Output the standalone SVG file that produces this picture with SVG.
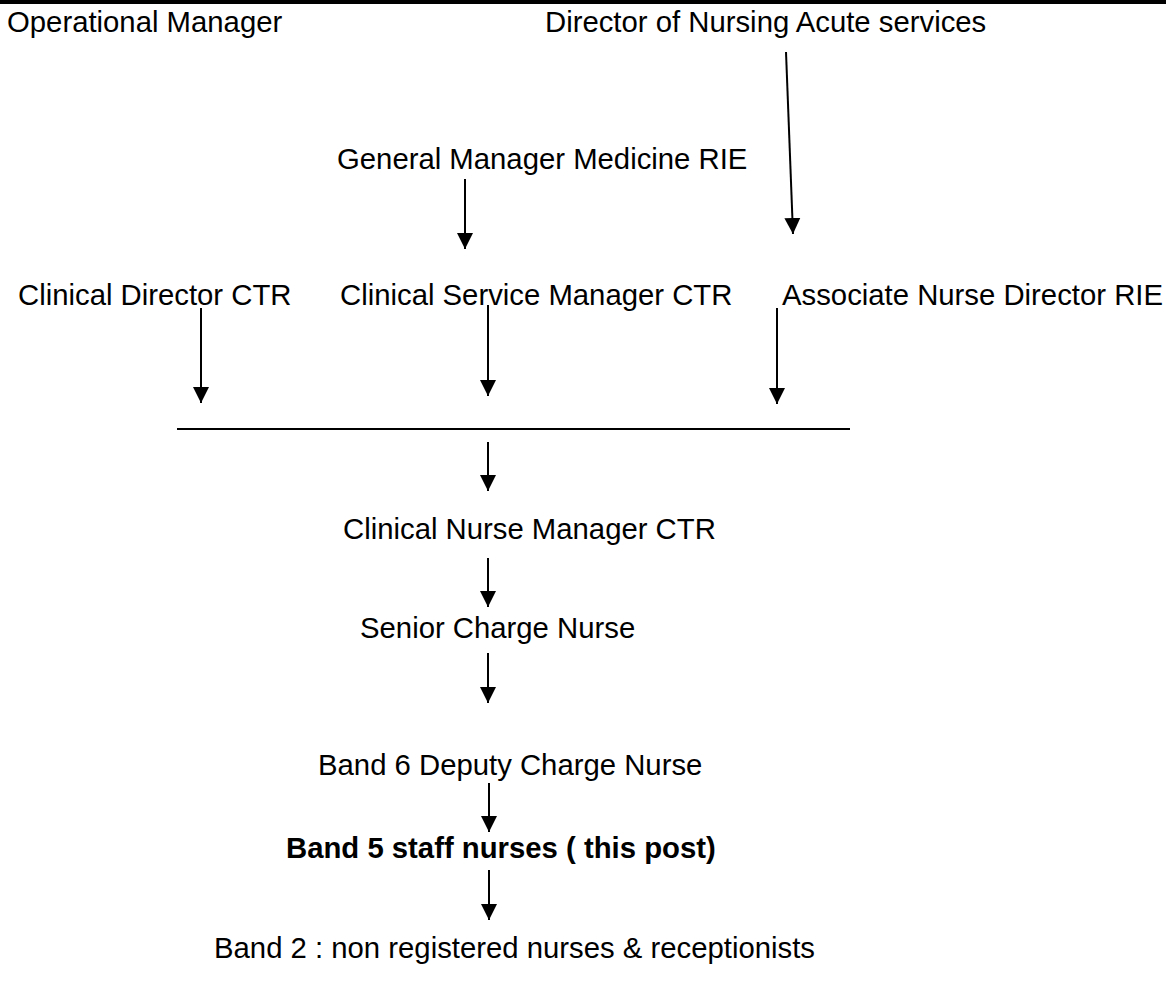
<svg xmlns="http://www.w3.org/2000/svg" width="1166" height="983" viewBox="0 0 1166 983">
<style>
text{font-family:"Liberation Sans",Arial,sans-serif;font-size:29.3px;fill:#000}
.b{font-weight:bold}
.c line{stroke:#000;stroke-width:2}
</style>
<defs>
<marker id="ah" markerUnits="userSpaceOnUse" markerWidth="18" markerHeight="18" viewBox="0 0 18 18" refX="16" refY="9" orient="auto">
<path d="M0,1 L16,9 L0,17 Z" fill="#000"/>
</marker>
</defs>
<rect x="0" y="0" width="1166" height="4" fill="#000"/>
<g id="n-opman"><text x="7" y="32">Operational Manager</text></g>
<g id="n-director"><text x="545" y="32">Director of Nursing Acute services</text></g>
<g id="n-genman"><text x="337" y="169">General Manager Medicine RIE</text></g>
<g id="n-clindir"><text x="18" y="305">Clinical Director CTR</text></g>
<g id="n-csm"><text x="340" y="305">Clinical Service Manager CTR</text></g>
<g id="n-and"><text x="782" y="305">Associate Nurse Director RIE</text></g>
<g id="n-cnm"><text x="343" y="539">Clinical Nurse Manager CTR</text></g>
<g id="n-scn"><text x="360" y="638">Senior Charge Nurse</text></g>
<g id="n-band6"><text x="318" y="775">Band 6 Deputy Charge Nurse</text></g>
<g id="n-band5"><text class="b" x="286" y="858">Band 5 staff nurses ( this post)</text></g>
<g id="n-band2"><text x="214" y="958">Band 2 : non registered nurses &amp; receptionists</text></g>
<g id="connectors" class="c">
<line x1="786" y1="52" x2="793" y2="234" marker-end="url(#ah)"/>
<line x1="465" y1="179" x2="465" y2="249" marker-end="url(#ah)"/>
<line x1="201" y1="308" x2="201" y2="403" marker-end="url(#ah)"/>
<line x1="488" y1="305" x2="488" y2="396" marker-end="url(#ah)"/>
<line x1="777" y1="308" x2="777" y2="404" marker-end="url(#ah)"/>
<line x1="177" y1="429" x2="850" y2="429"/>
<line x1="488" y1="442" x2="488" y2="491" marker-end="url(#ah)"/>
<line x1="488" y1="558" x2="488" y2="607" marker-end="url(#ah)"/>
<line x1="488" y1="653" x2="488" y2="703" marker-end="url(#ah)"/>
<line x1="489" y1="783" x2="489" y2="832" marker-end="url(#ah)"/>
<line x1="489" y1="870" x2="489" y2="920" marker-end="url(#ah)"/>
</g>
</svg>
